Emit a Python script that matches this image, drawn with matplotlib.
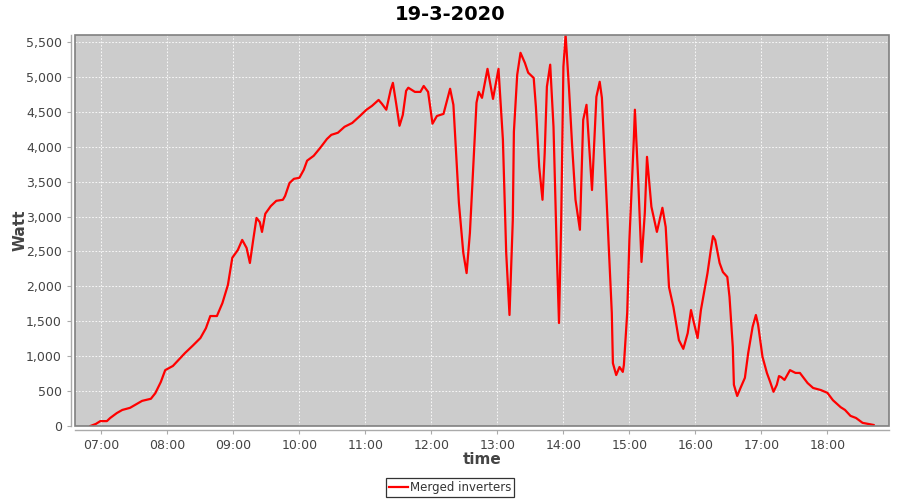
import matplotlib
matplotlib.use("Agg")
import matplotlib.pyplot as plt
import matplotlib.dates as mdates
from matplotlib.patches import Rectangle
import pandas as pd

# readings (time of day, watt) for 19-3-2020
times = ["06:50", "06:55", "06:59", "07:05", "07:08", "07:14", "07:19", "07:26", "07:32", "07:37",
         "07:45", "07:49", "07:54", "07:58", "08:05", "08:10", "08:16", "08:23", "08:30", "08:35",
         "08:39", "08:45", "08:50", "08:55", "08:59", "09:04", "09:08", "09:12", "09:15", "09:18",
         "09:21", "09:24", "09:26", "09:29", "09:34", "09:39", "09:45", "09:47", "09:51", "09:55",
         "10:00", "10:04", "10:07", "10:13", "10:19", "10:25", "10:29", "10:35", "10:41", "10:48",
         "10:55", "11:01", "11:06", "11:12", "11:15", "11:19", "11:23", "11:25", "11:28", "11:31",
         "11:34", "11:37", "11:39", "11:45", "11:50", "11:53", "11:57", "12:01", "12:05", "12:11",
         "12:17", "12:20", "12:25", "12:29", "12:32", "12:35", "12:41", "12:43", "12:46", "12:51",
         "12:56", "13:01", "13:05", "13:08", "13:11", "13:14", "13:15", "13:18", "13:21", "13:25",
         "13:28", "13:33", "13:35", "13:38", "13:41", "13:43", "13:45", "13:48", "13:51", "13:54",
         "13:56", "13:58", "14:00", "14:02", "14:05", "14:08", "14:11", "14:15", "14:18", "14:21",
         "14:26", "14:30", "14:33", "14:35", "14:40", "14:44", "14:45", "14:48", "14:51", "14:54",
         "14:55", "14:58", "15:00", "15:04", "15:05", "15:08", "15:11", "15:14", "15:16", "15:20",
         "15:25", "15:30", "15:33", "15:36", "15:40", "15:45", "15:49", "15:53", "15:56", "15:58",
         "16:02", "16:05", "16:11", "16:14", "16:16", "16:18", "16:22", "16:25", "16:29", "16:31",
         "16:34", "16:35", "16:38", "16:41", "16:45", "16:48", "16:52", "16:55", "16:57", "17:01",
         "17:05", "17:08", "17:11", "17:14", "17:16", "17:18", "17:21", "17:26", "17:31", "17:35",
         "17:42", "17:47", "17:54", "18:00", "18:05", "18:12", "18:16", "18:21", "18:26", "18:32",
         "18:42"]
watt = [0, 30, 70, 70, 115, 185, 230, 260, 315, 360,
        390, 470, 630, 800, 860, 945, 1045, 1150, 1260, 1400,
        1575, 1575, 1760, 2020, 2410, 2520, 2665, 2550, 2335, 2665,
        2980, 2920, 2780, 3040, 3150, 3225, 3240, 3295, 3480, 3540,
        3555, 3670, 3800, 3870, 3985, 4110, 4170, 4200, 4285, 4340,
        4440, 4530, 4585, 4670, 4615, 4530, 4815, 4915, 4615, 4300,
        4455, 4800, 4845, 4785, 4785, 4870, 4785, 4330, 4440, 4470,
        4830, 4600, 3195, 2480, 2190, 2765, 4630, 4785, 4700, 5115,
        4685, 5115, 4100, 2480, 1590, 2950, 4215, 5030, 5345, 5200,
        5060, 4985, 4570, 3710, 3240, 3910, 4860, 5175, 4285, 2480,
        1475, 2950, 5145, 5600, 4860, 4000, 3240, 2810, 4385, 4600,
        3380, 4715, 4930, 4700, 2995, 1620, 900, 730, 845, 775,
        875, 1620, 2665, 4100, 4530, 3525, 2350, 3050, 3855, 3140,
        2780, 3125, 2850, 1990, 1705, 1230, 1105, 1330, 1660, 1520,
        1260, 1660, 2190, 2520, 2720, 2665, 2335, 2205, 2135, 1850,
        1130, 590, 430, 545, 690, 1045, 1420, 1590, 1450, 990,
        760, 630, 490, 590, 715, 700, 660, 800, 760, 760,
        615, 545, 515, 475, 370, 270, 230, 145, 115, 45,
        15]
hour_ticks = ["07:00", "08:00", "09:00", "10:00", "11:00", "12:00",
              "13:00", "14:00", "15:00", "16:00", "17:00", "18:00"]
day = "2020-03-19 "

t = pd.to_datetime([day + s for s in times])

fig = plt.figure(figsize=(9, 5), dpi=100, facecolor="white")
ax = fig.add_axes([75/900, 74/500, 814/900, 391/500])
ax.set_facecolor("#cccccc")

ax.plot(t, watt, color="#ff0000", lw=1.6, label="Merged inverters",
        solid_joinstyle="round")

ax.set_xlim(pd.Timestamp(day + "06:36"), pd.Timestamp(day + "18:56"))
ax.set_ylim(0, 5600)
ax.set_xticks(pd.to_datetime([day + s for s in hour_ticks]))
ax.xaxis.set_major_formatter(mdates.DateFormatter("%H:%M"))
ax.set_yticks(range(0, 5501, 500))
ax.yaxis.set_major_formatter(matplotlib.ticker.FuncFormatter(lambda v, p: f"{int(v):,}"))

ax.grid(True, color="white", linestyle=(0, (2, 2)), linewidth=0.6)
ax.set_axisbelow(True)

# axis lines sit a few pixels away from the plot border
for side in ("top", "right"):
    ax.spines[side].set_visible(False)
for side in ("left", "bottom"):
    ax.spines[side].set_position(("outward", 3))
    ax.spines[side].set_color("#aaaaaa")
    ax.spines[side].set_linewidth(1.0)
ax.add_patch(Rectangle((0, 0), 1, 1, transform=ax.transAxes, fill=False,
                       edgecolor="#808080", linewidth=1.2, clip_on=False, zorder=5))

ax.tick_params(colors="#aaaaaa", labelcolor="#444444", labelsize=9, length=3, width=0.8)

fig.text(0.5, 1 - 15/500, "19-3-2020", ha="center", va="center",
         fontsize=14, fontweight="bold")
ax.set_xlabel("time", fontsize=11, fontweight="bold", color="#444444")
ax.set_ylabel("Watt", fontsize=11, fontweight="bold", color="#444444")
ax.yaxis.set_label_coords(-55/814, 0.5)
ax.xaxis.set_label_coords(0.5, -33/391)
ax.xaxis.label.set_va("center")
ax.yaxis.label.set_va("center")

leg = fig.legend(loc="lower center", bbox_to_anchor=(0.5, 0.0), fontsize=8.5,
                 frameon=True, fancybox=False, handlelength=1.6, handletextpad=0.2,
                 borderpad=0.25, borderaxespad=0.25, labelcolor="#333333")
leg.get_frame().set_edgecolor("black")
leg.get_frame().set_linewidth(0.9)

fig.savefig("out.png", dpi=100)
